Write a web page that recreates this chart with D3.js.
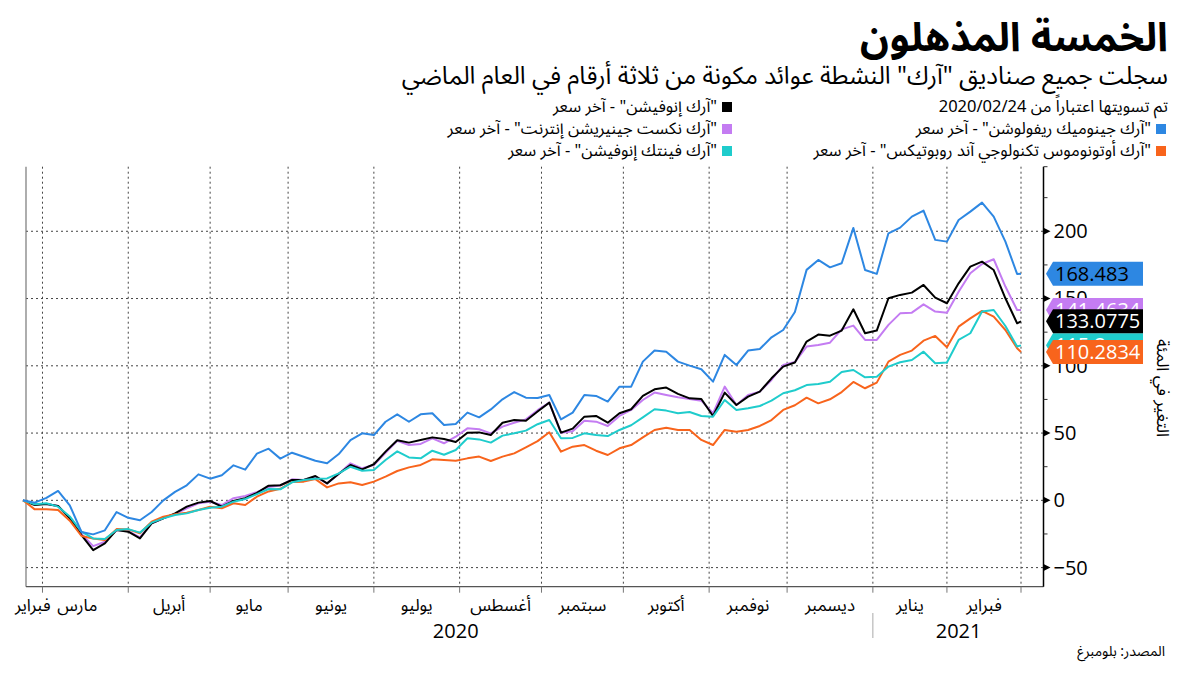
<!DOCTYPE html>
<html lang="ar">
<head>
<meta charset="utf-8">
<script src="https://cdn.jsdelivr.net/npm/d3@7"></script>
<style>
  html, body { margin: 0; padding: 0; background: #fff; }
  svg { display: block; }
  .ar { direction: rtl; unicode-bidi: embed; font-family: "Noto Sans Arabic", "DejaVu Sans", sans-serif; }
  .num { font-family: "Open Sans", "Noto Sans", sans-serif; }
  .grid { stroke: #444; stroke-width: 1; stroke-dasharray: 2,3; }
</style>
</head>
<body>
<svg id="chart" width="1200" height="675"></svg>
<script>
// trading-day index (0 = 2020/02/24), sampled every 3 sessions + last session
const dayIndex = d3.range(0, 256, 3).concat([256]);

// "آرك إنوفيشن" (black)
const arkk = [0, -3.5, -2.7, -4.2, -13.4, -25.8, -37, -32, -22, -23.3, -28.3, -17.1, -13.4, -9.7, -4.7, -1.7, -0.5, -4.7, -0.5, 1.6, 5.5, 10.9, 11.2,
  15.1, 15.1, 18.1, 12.6, 19.8, 26.3, 23, 26.8, 36.2, 44.6, 42.9, 44.8, 46.8, 45.6, 43.4, 50.3, 50.5, 48.6, 57.7, 59.7, 59.2, 66,
  72.6, 50.3, 53.3, 62.2, 62.7, 57.7, 64.7, 67.7, 77.6, 82.5, 83.8, 79.1, 75.8, 75.3, 62.7, 80.1, 70.9, 77.1, 80.8, 90.7, 99.4, 102.5,
  118, 123.2, 122.4, 126.2, 142, 124.2, 126.2, 150.2, 152.7, 154.4, 160.1, 150.7, 146.5, 161.3, 173.7, 177.4, 171.2, 150.2, 131.6,
  133.0775];

// "آرك جينوميك ريفولوشن" (blue)
const arkg = [0, -1.7, 1.8, 7, -3.7, -23.5, -25.3, -22.3, -8.7, -13, -14.8, -8.7, 0, 6.3, 11.2, 19.3, 16.1, 18.6, 26, 22.8, 34.7, 38.4, 31,
  35.4, 32.4, 29.4, 27.5, 34.4, 44.8, 49.8, 48.5, 58.4, 63.9, 58.4, 63.9, 64.7, 56, 56.7, 65.2, 61.7, 67.6, 75.1, 80.5, 76.3, 76,
  78.3, 60.2, 65.2, 78.3, 77.6, 73.4, 84.5, 84.5, 103.1, 111.3, 110.5, 103.1, 100.1, 97.4, 88.2, 108.1, 100.6, 111.3, 112.5, 121.2, 126.6, 140,
  171.3, 178.7, 173.2, 176.2, 202.5, 171.2, 168.3, 198.5, 202.7, 210.9, 215.4, 193.6, 192.3, 208.4, 214.6, 221.3, 210.9, 192.3, 168.3,
  168.483];

// "آرك نكست جينيريشن إنترنت" (purple)
const arkw = [0, -2.7, -2.7, -4.2, -13.4, -25, -34, -30.8, -22, -22.8, -27.5, -17.1, -13.4, -10.2, -5.9, -2.2, -1, -3.5, 1.6, 3.2, 6.1, 9.9, 11,
  15.6, 15.1, 17.6, 12.6, 19.6, 27.5, 23.8, 26.3, 35.4, 44.3, 41.1, 41.9, 46.1, 42.4, 47.3, 53.5, 52.8, 49.8, 54.8, 57.7, 60.2, 67,
  72.6, 50.3, 51.3, 59.2, 58.5, 55.3, 62.7, 67.2, 74.6, 80.1, 78.3, 76.6, 75.3, 74.1, 64.7, 84.5, 70.9, 78.3, 80.8, 89.5, 100.6, 102.8,
  114.3, 115.5, 117.2, 127.1, 129.9, 119.2, 119.2, 130.4, 139, 139.5, 145.7, 140.3, 139.5, 155.1, 168.8, 175.7, 179.2, 158.9, 141.5,
  141.4634];

// "آرك أوتونوموس تكنولوجي آند روبوتيكس" (orange)
const arkq = [0, -6.7, -6.7, -7.2, -15.1, -26.5, -28.3, -29.5, -21.4, -21.6, -24.5, -15.9, -12.1, -10.4, -9.2, -7.2, -4.7, -5.9, -2.2, -3.5, 2.7, 6.6, 8.6,
  13.6, 13.9, 15.8, 9.6, 12.6, 13.4, 11.4, 13.9, 17.6, 21.8, 24.5, 26.3, 30.5, 30, 29.5, 31.2, 32.5, 29.2, 32.5, 34.9, 39.4, 44,
  50.6, 36.2, 39.9, 41.1, 36.9, 33.7, 38.7, 41.1, 46.8, 52.3, 54, 52.3, 52.3, 44.9, 41.1, 52.3, 51, 52.3, 55.3, 59.7, 67.2, 70.7,
  76.3, 72.1, 75.1, 80.5, 88, 83.3, 87.5, 103.1, 108.1, 111.3, 118.7, 122.2, 113.8, 129.1, 135.3, 140.8, 136.6, 126.6, 113,
  110.2834];

// "آرك فينتك إنوفيشن" (teal)
const arkf = [0, -3, -2.2, -4.7, -12, -23.3, -28.3, -28.8, -22, -21.4, -24, -16.6, -13.4, -10.9, -9.7, -7.2, -5.5, -4.7, -1, 1, 4.6, 8.4, 8.2,
  13.4, 15.1, 16.1, 16.3, 20.1, 25, 22, 22.5, 30, 36.4, 31.9, 31.2, 36.9, 33.9, 37.4, 46.1, 45.3, 42.9, 48.1, 49.8, 51.8, 56.6,
  59.7, 46.1, 46.4, 49.8, 48.6, 47.8, 52.3, 55.8, 61.7, 67.7, 66.7, 64.7, 65.7, 62.7, 62.2, 74.6, 67.2, 68.4, 70.1, 74.1, 79.6, 81.8,
  85.7, 86.5, 88.2, 95.4, 96.9, 91.4, 91.9, 99.4, 102.6, 104.3, 110.5, 101.9, 102.4, 119.2, 124.2, 140.3, 141.5, 129.6, 114.3,
  115.2];

const lastLabels = { arkg: "168.483", arkw: "141.4634", arkf: "115.2", arkq: "110.2834", arkk: "133.0775" };

// month boundaries (first session of each month) and their labels
const monthBounds = [0, 5, 27, 48, 68, 90, 112, 133, 154, 176, 196, 218, 237, 256];
const monthLabels = ["فبراير", "مارس", "أبريل", "مايو", "يونيو", "يوليو", "أغسطس", "سبتمبر", "أكتوبر", "نوفمبر", "ديسمبر", "يناير", "فبراير"];
const yearLabels = ["2020", "2021"];
const yearCenters = [111, 240];
const yearSplit = 218;

const yMajor = [-50, 0, 50, 100, 150, 200];
const yMinor = [-25, 25, 75, 125, 175, 225];

const legendLabels = {
  arkk: '"آرك إنوفيشن" - آخر سعر',
  arkg: '"آرك جينوميك ريفولوشن" - آخر سعر',
  arkw: '"آرك نكست جينيريشن إنترنت" - آخر سعر',
  arkq: '"آرك أوتونوموس تكنولوجي آند روبوتيكس" - آخر سعر',
  arkf: '"آرك فينتك إنوفيشن" - آخر سعر'
};

const colors = { arkk: "#000000", arkg: "#2d87e2", arkw: "#c47cf2", arkq: "#f8641c", arkf: "#1fcccc" };
const tagText = { arkk: "#fff", arkg: "#000", arkw: "#fff", arkq: "#fff", arkf: "#fff" };

const seriesData = { arkk, arkg, arkw, arkq, arkf };

const svg = d3.select("#chart");

const plotLeft = 26, plotRight = 1043.5, plotTop = 166.7, plotBottom = 586.7;

const x = d3.scaleLinear().domain([0, 256]).range([23, 1021]);
const y = d3.scaleLinear().domain([-64.2, 248]).range([plotBottom, plotTop]);

// titles
svg.append("text").attr("class", "ar")
  .attr("x", 1168).attr("y", 51)
  .attr("text-anchor", "start")
  .style("font-size", "40px").style("font-weight", "bold")
  .text("الخمسة المذهلون");

svg.append("text").attr("class", "ar")
  .attr("x", 1168).attr("y", 84)
  .attr("text-anchor", "start")
  .style("font-size", "24.5px")
  .text('سجلت جميع صناديق "آرك" النشطة عوائد مكونة من ثلاثة أرقام في العام الماضي');

// legend
svg.append("text").attr("class", "ar")
  .attr("x", 1168).attr("y", 112)
  .attr("text-anchor", "start")
  .style("font-size", "16.5px")
  .text("تم تسويتها اعتباراً من 2020/02/24");

const legendRows = [
  { key: "arkg", sq: 1156, row: 1 },
  { key: "arkq", sq: 1156, row: 2 },
  { key: "arkk", sq: 722, row: 0 },
  { key: "arkw", sq: 722, row: 1 },
  { key: "arkf", sq: 722, row: 2 }
];

const legend = svg.append("g");
legendRows.forEach(d => {
  const base = 112 + d.row * 22;
  legend.append("rect")
    .attr("x", d.sq).attr("y", base - 10)
    .attr("width", 10).attr("height", 10)
    .attr("fill", colors[d.key]);
  legend.append("text").attr("class", "ar")
    .attr("x", d.sq - 5).attr("y", base)
    .attr("text-anchor", "start")
    .style("font-size", "16.5px")
    .text(legendLabels[d.key]);
});

// grid
const grid = svg.append("g");
grid.selectAll("line.h")
  .data(yMajor)
  .enter().append("line")
  .attr("class", "grid")
  .attr("x1", plotLeft).attr("x2", plotRight)
  .attr("y1", d => y(d)).attr("y2", d => y(d));

grid.selectAll("line.v")
  .data(monthBounds.slice(1))
  .enter().append("line")
  .attr("class", "grid")
  .attr("x1", d => x(d)).attr("x2", d => x(d))
  .attr("y1", plotTop).attr("y2", plotBottom);

// frame: left line and bottom axis
svg.append("line")
  .attr("x1", plotLeft).attr("x2", plotLeft)
  .attr("y1", plotTop).attr("y2", plotBottom)
  .attr("stroke", "#777").attr("stroke-width", 1.2);

svg.append("line")
  .attr("x1", plotLeft).attr("x2", plotRight)
  .attr("y1", plotBottom).attr("y2", plotBottom)
  .attr("stroke", "#555").attr("stroke-width", 1.2);

svg.selectAll("line.xtick")
  .data(monthBounds.slice(1))
  .enter().append("line")
  .attr("x1", d => x(d)).attr("x2", d => x(d))
  .attr("y1", plotBottom).attr("y2", plotBottom + 6)
  .attr("stroke", "#777");

svg.selectAll("text.month")
  .data(monthLabels)
  .enter().append("text")
  .attr("class", "ar")
  .attr("x", (d, i) => x((monthBounds[i] + monthBounds[i + 1]) / 2) - (i === 1 ? 8 : 0))
  .attr("y", 611)
  .attr("text-anchor", "middle")
  .style("font-size", "17px")
  .text(d => d);

svg.selectAll("text.year")
  .data(yearLabels)
  .enter().append("text")
  .attr("class", "num")
  .attr("x", (d, i) => x(yearCenters[i]))
  .attr("y", 638)
  .attr("text-anchor", "middle")
  .style("font-size", "20px")
  .text(d => d);

svg.append("line")
  .attr("x1", x(yearSplit)).attr("x2", x(yearSplit))
  .attr("y1", 613).attr("y2", 638)
  .attr("stroke", "#aaa");

// right axis
const yAxis = d3.axisRight(y).tickValues(yMajor).tickSize(0).tickPadding(10);
const axisG = svg.append("g")
  .attr("transform", `translate(${plotRight},0)`)
  .call(yAxis);
axisG.select(".domain").remove();
axisG.selectAll("text")
  .attr("class", "num")
  .style("font-size", "20px")
  .attr("fill", "#000");

svg.append("line")
  .attr("x1", plotRight).attr("x2", plotRight)
  .attr("y1", plotTop).attr("y2", plotBottom)
  .attr("stroke", "#000").attr("stroke-width", 1.5);

svg.selectAll("line.minor")
  .data(yMinor.concat([248]))
  .enter().append("line")
  .attr("x1", plotRight).attr("x2", plotRight + 4)
  .attr("y1", d => y(d)).attr("y2", d => y(d))
  .attr("stroke", "#333");

svg.selectAll("path.ytri")
  .data(yMajor)
  .enter().append("path")
  .attr("d", d => `M${plotRight},${y(d) - 3.5}L${plotRight + 7},${y(d)}L${plotRight},${y(d) + 3.5}Z`)
  .attr("fill", "#000");

svg.append("text").attr("class", "ar")
  .attr("transform", "translate(1157,388) rotate(90)")
  .attr("text-anchor", "middle")
  .style("font-size", "17px")
  .text("التغير في المئة");

// lines
const line = d3.line()
  .x((d, i) => x(dayIndex[i]))
  .y(d => y(d));

const drawOrder = ["arkw", "arkk", "arkq", "arkf", "arkg"];
svg.append("g")
  .selectAll("path")
  .data(drawOrder)
  .enter().append("path")
  .attr("d", k => line(seriesData[k]))
  .attr("fill", "none")
  .attr("stroke", k => colors[k])
  .attr("stroke-width", 2)
  .attr("stroke-linejoin", "round");

// last value tags
const tagOrder = ["arkg", "arkw", "arkf", "arkq", "arkk"];
const tags = svg.append("g")
  .selectAll("g")
  .data(tagOrder)
  .enter().append("g")
  .attr("transform", k => {
    const arr = seriesData[k];
    return `translate(0,${y(arr[arr.length - 1])})`;
  });

tags.append("path")
  .attr("d", "M1046,0L1053,-12L1143,-12L1143,12L1053,12Z")
  .attr("fill", k => colors[k]);

tags.append("text")
  .attr("class", "num")
  .attr("x", 1055).attr("y", 7)
  .style("font-size", "20px")
  .attr("fill", k => tagText[k])
  .text(k => lastLabels[k]);

// source
svg.append("text").attr("class", "ar")
  .attr("x", 1165).attr("y", 656)
  .attr("text-anchor", "start")
  .style("font-size", "14px")
  .text("المصدر: بلومبرغ");
</script>
</body>
</html>
